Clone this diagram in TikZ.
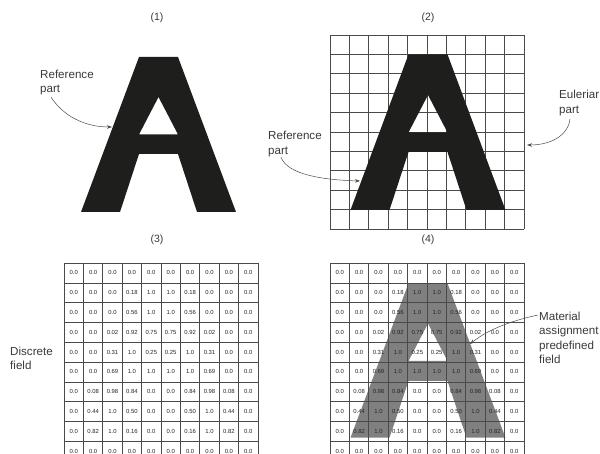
\documentclass[tikz,border=0pt]{standalone}
\usepackage{fontspec}
\setmainfont{Liberation Sans}
\usetikzlibrary{arrows.meta}
\definecolor{ink}{HTML}{1E1E1C}
\definecolor{txt}{HTML}{3A3A3A}
\definecolor{gridc}{HTML}{4A4A4A}
\definecolor{greyfill}{HTML}{808080}
\tikzset{
  lab/.style={font=\fontsize{11.6}{14.5}\selectfont,text=txt,inner sep=0pt,align=left,anchor=north west},
  ttl/.style={font=\fontsize{10.5}{12}\selectfont,text=txt,inner sep=0pt},
  cellv/.style={font=\fontsize{5.9}{6}\selectfont,text=black!85,inner sep=0pt},
  gridl/.style={draw=gridc,line width=0.75pt},
  lead/.style={draw=black!70,line width=0.5pt,-{Stealth[length=5pt,width=3.5pt]}},
}
\newcommand{\letterA}[7]{% x0 y-top y-apex y-base y-bar y-bot fill
  \fill[fill=#7,even odd rule] (#1+58,#2) -- (#1+97,#2) -- (#1+155,#6) -- (#1+116,#6) -- (#1+97,#5) -- (#1+58,#5) -- (#1+39,#6) -- (#1,#6) -- cycle
   (#1+77.5,#3) -- (#1+97,#4) -- (#1+58,#4) -- cycle;}
\newcommand{\valuesAt}[2]{%
  \foreach \vals [count=\r from 0] in {
   {0.0,0.0,0.0,0.0,0.0,0.0,0.0,0.0,0.0,0.0},
   {0.0,0.0,0.0,0.18,1.0,1.0,0.18,0.0,0.0,0.0},
   {0.0,0.0,0.0,0.56,1.0,1.0,0.56,0.0,0.0,0.0},
   {0.0,0.0,0.02,0.92,0.75,0.75,0.92,0.02,0.0,0.0},
   {0.0,0.0,0.31,1.0,0.25,0.25,1.0,0.31,0.0,0.0},
   {0.0,0.0,0.69,1.0,1.0,1.0,1.0,0.69,0.0,0.0},
   {0.0,0.08,0.98,0.84,0.0,0.0,0.84,0.98,0.08,0.0},
   {0.0,0.44,1.0,0.50,0.0,0.0,0.50,1.0,0.44,0.0},
   {0.0,0.82,1.0,0.16,0.0,0.0,0.16,1.0,0.82,0.0},
   {0.0,0.0,0.0,0.0,0.0,0.0,0.0,0.0,0.0,0.0}}{
    \foreach \v [count=\c from 0] in \vals {
      \node[cellv] (#2-\r-\c) at ({#1+9.7+19.4*\c},{272.9+19.8*\r}) {\v};
    }
  }}
\newcommand{\tablegrid}[1]{%
  \foreach \i in {0,...,10} \draw[gridl] ({#1+19.4*\i},263.2) -- ({#1+19.4*\i},454);
  \foreach \j in {0,...,9} \draw[gridl] (#1,{263.2+19.8*\j}) -- ({#1+194},{263.2+19.8*\j});}
\begin{document}
\begin{tikzpicture}[x=1pt,y=-1pt]
\useasboundingbox (0,0) rectangle (600,454);
\fill[white] (0,0) rectangle (600,454);
% titles
\node[ttl] (t1) at (157,18) {(1)};
\node[ttl] (t2) at (428,18) {(2)};
\node[ttl] (t3) at (157,240) {(3)};
\node[ttl] (t4) at (428,240) {(4)};
% panel 1
\letterA{81}{57}{97}{134.5}{154}{212}{ink}
\node[lab] (r1) at (40,69.5) {Reference\\part};
\coordinate (r1s) at (51,97);
\coordinate (r1e) at (112,127);
\draw[lead] (r1s) .. controls (63,116) and (85,127) .. (r1e);
% panel 2
\foreach \i in {0,...,10} \draw[gridl] ({330+19.4*\i},35) -- ({330+19.4*\i},229);
\foreach \j in {0,...,10} \draw[gridl] (330,{35+19.4*\j}) -- (524,{35+19.4*\j});
\letterA{350.5}{54.4}{95}{132.5}{152}{210}{ink}
\node[lab] (r2) at (268,131) {Reference\\part};
\coordinate (r2s) at (281,157);
\coordinate (r2e) at (360,181);
\draw[lead] (r2s) .. controls (287,175) and (325,180) .. (r2e);
\node[lab] (e2) at (559,90) {Euleriar\\part};
\coordinate (e2s) at (570,119);
\coordinate (e2e) at (527,145);
\draw[lead] (e2s) .. controls (568,136) and (550,145) .. (e2e);
% panel 3
\tablegrid{64}
\valuesAt{64}{a}
\node[lab] (d3) at (10,346.5) {Discrete\\field};
% panel 4
\letterA{350.5}{283.3}{323.5}{361}{381}{437.7}{greyfill}
\tablegrid{330}
\valuesAt{330}{b}
\node[lab] (m4) at (539,311.5) {Material\\assignment\\predefined\\field};
\coordinate (m4s) at (538,315);
\coordinate (m4e) at (470,344);
\draw[lead] (m4s) .. controls (515,320) and (490,328) .. (m4e);
\end{tikzpicture}
\end{document}
